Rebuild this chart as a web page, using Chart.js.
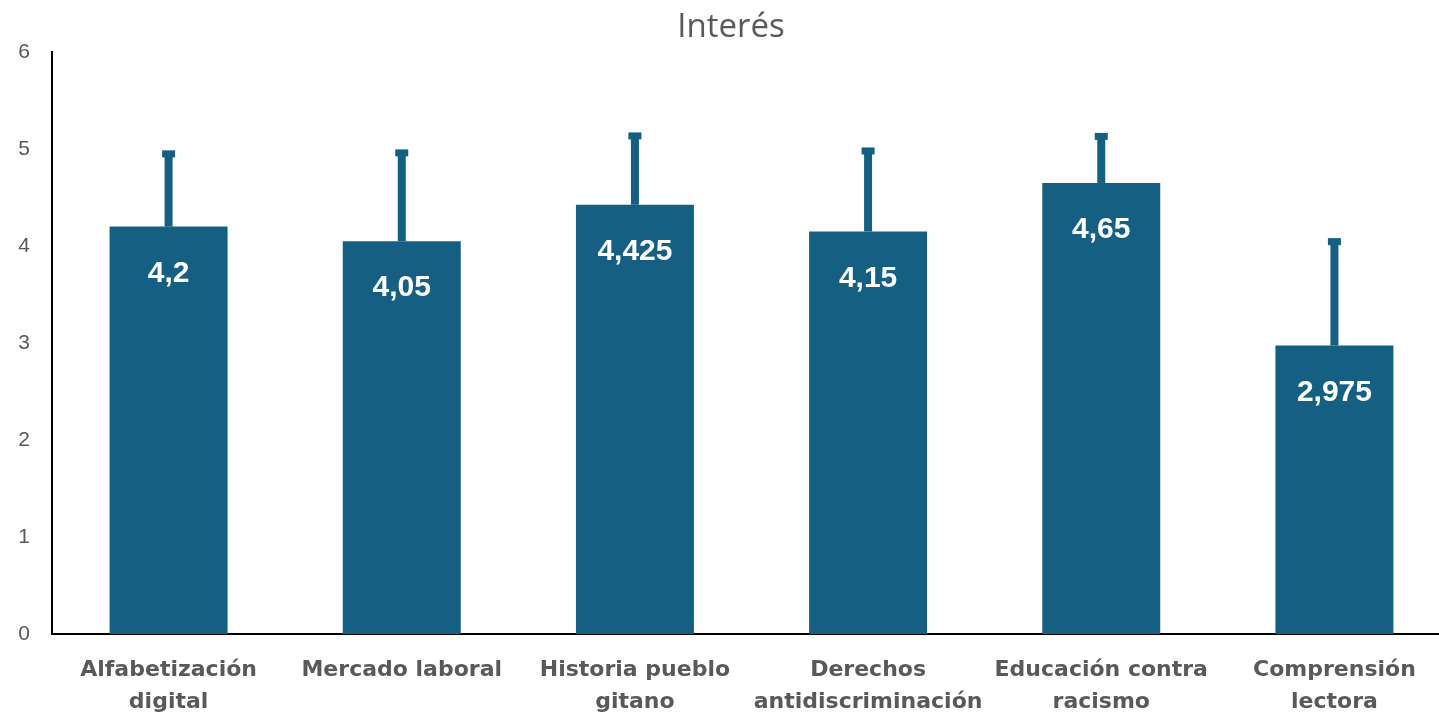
<!DOCTYPE html>
<html>
<head>
<meta charset="utf-8">
<script src="https://cdn.jsdelivr.net/npm/chart.js@4"></script>
<style>
    html, body { margin: 0; padding: 0; background: #fff; overflow: hidden; }
    #wrap { position: relative; width: 1462px; height: 714px; }
</style>
</head>
<body>
<div id="wrap"><canvas id="chart"></canvas></div>
<script>
// ── Data ──
const categories = [
    ["Alfabetización", "digital"],
    ["Mercado laboral"],
    ["Historia pueblo", "gitano"],
    ["Derechos", "antidiscriminación"],
    ["Educación contra", "racismo"],
    ["Comprensión", "lectora"],
];
const values = [4.2, 4.05, 4.425, 4.15, 4.65, 2.975];
const errors = [0.75, 0.91, 0.71, 0.83, 0.48, 1.07];
const yTicks = [0, 1, 2, 3, 4, 5, 6];
const chartTitle = "Interés";

const BAR_COLOR = "#156082";
const TEXT_GRAY = "#595959";

// ── Title centred on the whole canvas (chart area stops short of the right edge) ──
const titlePlugin = {
    id: "centredTitle",
    afterDraw(chart) {
        const { ctx } = chart;
        ctx.save();
        ctx.fillStyle = TEXT_GRAY;
        ctx.font = "400 33px 'Open Sans', sans-serif";
        ctx.textAlign = "center";
        ctx.textBaseline = "middle";
        ctx.fillText(chartTitle, chart.width / 2, 28);
        ctx.restore();
    },
};

// ── Error bars (plus side only) + value labels inside bars ──
const barExtras = {
    id: "barExtras",
    afterDatasetsDraw(chart) {
        const { ctx, scales } = chart;
        const meta = chart.getDatasetMeta(0);
        ctx.save();
        meta.data.forEach((bar, i) => {
            const yEnd = scales.y.getPixelForValue(values[i] + errors[i]);
            ctx.strokeStyle = BAR_COLOR;
            ctx.lineCap = "butt";
            // stem
            ctx.lineWidth = 8;
            ctx.beginPath();
            ctx.moveTo(bar.x, bar.y);
            ctx.lineTo(bar.x, yEnd);
            ctx.stroke();
            // cap
            ctx.lineWidth = 7;
            ctx.beginPath();
            ctx.moveTo(bar.x - 6.5, yEnd);
            ctx.lineTo(bar.x + 6.5, yEnd);
            ctx.stroke();

            // label
            ctx.fillStyle = "#ffffff";
            ctx.font = "bold 30px 'Liberation Sans', Arial, sans-serif";
            ctx.textAlign = "center";
            ctx.textBaseline = "middle";
            ctx.fillText(String(values[i]).replace(".", ","), bar.x, bar.y + 47);
        });
        ctx.restore();
    },
};

new Chart(document.getElementById("chart").getContext("2d"), {
    type: "bar",
    data: {
        labels: categories,
        datasets: [
            {
                label: chartTitle,
                data: values,
                backgroundColor: BAR_COLOR,
                borderWidth: 0,
                barPercentage: 0.506,
                categoryPercentage: 1,
            },
        ],
    },
    options: {
        responsive: true,
        maintainAspectRatio: false,
        animation: false,
        layout: { padding: { left: 0, right: 11, top: 52, bottom: 0 } },
        plugins: {
            legend: { display: false },
            tooltip: { enabled: false },
            title: { display: false },
        },
        scales: {
            y: {
                min: 0,
                max: 6,
                afterBuildTicks: (axis) => { axis.ticks = yTicks.map((v) => ({ value: v })); },
                grid: { display: false, drawTicks: false },
                border: { display: true, color: "#000000", width: 2 },
                ticks: {
                    color: TEXT_GRAY,
                    padding: 22,
                    font: { family: "'Liberation Sans', Arial, sans-serif", size: 21 },
                },
                afterFit: (axis) => { axis.width = 52; },
            },
            x: {
                grid: { display: false, drawTicks: false },
                border: { display: true, color: "#000000", width: 2 },
                ticks: {
                    color: TEXT_GRAY,
                    padding: 20,
                    maxRotation: 0,
                    autoSkip: false,
                    font: { family: "'DejaVu Sans', sans-serif", size: 22, weight: "bold", lineHeight: 1.45 },
                },
                afterFit: (axis) => { axis.height = 80; },
            },
        },
    },
    plugins: [barExtras, titlePlugin],
});
</script>
</body>
</html>
